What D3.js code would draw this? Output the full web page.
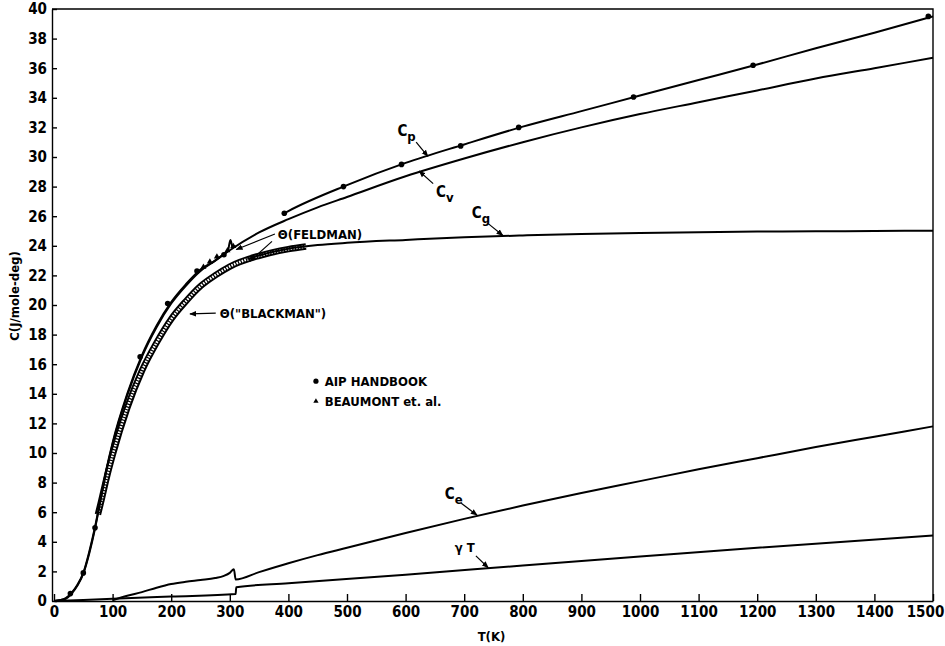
<!DOCTYPE html>
<html>
<head>
<meta charset="utf-8">
<script src="https://cdn.jsdelivr.net/npm/d3@7"></script>
<style>
    body { margin: 0; background: #fff; }
    text { font-family: "DejaVu Sans", "Liberation Sans Narrow", sans-serif; font-stretch: condensed; font-weight: bold; fill: #000; }
    .curve { fill: none; stroke: #000; stroke-width: 2; }
    .axis path, .axis line { stroke: #000; stroke-width: 1.4; }
    .axis text { font-size: 15px; }
    .note { font-size: 13px; }
</style>
</head>
<body>
<div id="chart"></div>
<script>
// tick labels
const tempTicks = d3.range(0, 1501, 100)
const heatTicks = d3.range(0, 41, 2)

// [T (K), C (J/mole-deg)]
const cpLow = [[0, 0], [20, 0.2], [30, 0.55], [40, 1.1], [50, 1.9], [60, 3.3], [70, 5.0], [80, 7.0], [90, 9.0],
    [100, 10.7], [125, 14.0], [150, 16.6], [175, 18.6], [200, 20.2], [225, 21.4], [250, 22.4], [275, 23.0],
    [290, 23.45], [297, 23.7], [301, 24.4], [305, 23.9], [310, 24.0]]
const cpHigh = [[393, 26.2], [400, 26.35], [500, 28.1], [600, 29.6], [700, 30.85], [800, 32.05], [900, 33.1],
    [1000, 34.15], [1100, 35.2], [1200, 36.25], [1300, 37.35], [1400, 38.4], [1500, 39.5]]
const cv = [[0, 0], [20, 0.15], [30, 0.5], [40, 1.05], [50, 1.85], [60, 3.2], [70, 4.9], [80, 6.9], [90, 8.9],
    [100, 10.6], [125, 13.9], [150, 16.5], [175, 18.5], [200, 20.1], [225, 21.3], [250, 22.3], [275, 23.0],
    [300, 23.7], [350, 24.9], [400, 25.8], [450, 26.6], [500, 27.3], [600, 28.7], [700, 29.9], [800, 31.0],
    [900, 32.0], [1000, 32.9], [1100, 33.7], [1200, 34.5], [1300, 35.3], [1400, 36.0], [1500, 36.7]]
const feldman = [[75, 6.0], [80, 6.8], [90, 8.5], [100, 10.0], [125, 13.2], [150, 15.7], [175, 17.6], [200, 19.2],
    [225, 20.4], [250, 21.4], [275, 22.1], [300, 22.7], [350, 23.4], [400, 23.85], [430, 24.0]]
const blackman = [[75, 5.7], [80, 6.5], [90, 8.2], [100, 9.7], [125, 12.9], [150, 15.4], [175, 17.3], [200, 18.9],
    [225, 20.1], [250, 21.15], [275, 21.9], [300, 22.5], [350, 23.25], [400, 23.7], [430, 23.9]]
const cg = [[330, 23.1], [350, 23.35], [400, 23.8], [450, 24.05], [500, 24.2], [600, 24.4], [700, 24.58], [800, 24.7],
    [900, 24.8], [1000, 24.87], [1100, 24.92], [1200, 24.96], [1300, 24.98], [1400, 25.0], [1500, 25.02]]
const ce = [[100, 0.05], [125, 0.35], [150, 0.6], [175, 0.9], [200, 1.15], [225, 1.3], [250, 1.42], [275, 1.55],
    [290, 1.7], [300, 1.9], [307, 2.15], [310, 1.45], [350, 1.95], [400, 2.55], [450, 3.1], [500, 3.6],
    [600, 4.6], [700, 5.55], [800, 6.45], [900, 7.3], [1000, 8.1], [1100, 8.9], [1200, 9.65], [1300, 10.4],
    [1400, 11.1], [1500, 11.8]]
const gammaT = [[0, 0], [100, 0.15], [200, 0.3], [310, 0.47], [311, 0.93], [400, 1.2], [600, 1.78], [800, 2.4],
    [1000, 3.0], [1200, 3.6], [1500, 4.42]]
const aipPoints = [[28, 0.5], [50, 1.9], [70, 4.95], [147, 16.5], [194, 20.1], [244, 22.3], [290, 23.4],
    [393, 26.2], [494, 28.0], [593, 29.5], [694, 30.75], [793, 32.0], [989, 34.05], [1193, 36.2], [1492, 39.5]]
const beaumontPoints = [[255, 22.5], [266, 22.85], [278, 23.2], [296, 23.62], [306, 23.9]]

const W = 945, H = 646
const margin = { left: 54, right: 12, top: 9, bottom: 45 }

const svg = d3.select('#chart').append('svg')
    .attr('width', W)
    .attr('height', H)

const x = d3.scaleLinear().domain([0, 1500]).range([margin.left, W - margin.right])
const y = d3.scaleLinear().domain([0, 40]).range([H - margin.bottom, margin.top])

svg.append('defs').append('marker')
    .attr('id', 'arrow')
    .attr('viewBox', '0 0 10 10')
    .attr('refX', 9).attr('refY', 5)
    .attr('markerWidth', 7).attr('markerHeight', 7)
    .attr('markerUnits', 'userSpaceOnUse')
    .attr('orient', 'auto')
    .append('path')
    .attr('d', 'M0,1 L10,5 L0,9 Z')
    .attr('fill', '#000')

// axes
const xAxis = svg.append('g')
    .attr('class', 'axis')
    .attr('transform', `translate(0,${y(0)})`)
    .call(d3.axisBottom(x).tickValues(tempTicks).tickFormat(d3.format('d'))
        .tickSizeInner(-7).tickSizeOuter(0).tickPadding(5))
// last label sits at the page edge, nudge it in
xAxis.selectAll('.tick text').filter(d => d === 1500).attr('dx', -8)

svg.append('g')
    .attr('class', 'axis')
    .attr('transform', `translate(${x(0) - 2},0)`)
    .call(d3.axisLeft(y).tickValues(heatTicks).tickFormat(d3.format('d'))
        .tickSizeInner(-5).tickSizeOuter(0).tickPadding(5))

// frame top + right
svg.append('path')
    .attr('d', `M${x(0) - 2},${y(40)} H${x(1500)} V${y(0)}`)
    .attr('fill', 'none')
    .attr('stroke', '#000')
    .attr('stroke-width', 1.4)

// axis titles
svg.append('text')
    .attr('x', x(750) - 2)
    .attr('y', 641)
    .attr('text-anchor', 'middle')
    .style('font-size', '13px')
    .text('T(K)')
svg.append('text')
    .attr('transform', `translate(19,${296}) rotate(-90)`)
    .attr('text-anchor', 'middle')
    .style('font-size', '13px')
    .text('C(J/mole-deg)')

const line = d3.line()
    .x(d => x(d[0]))
    .y(d => y(d[1]))
    .curve(d3.curveMonotoneX)

// Θ band (Feldman / Blackman): black rails with light rungs between
const mid = feldman.map((d, i) => [d[0], (d[1] + blackman[i][1]) / 2])
svg.append('path').attr('d', line(mid)).attr('fill', 'none').attr('stroke', '#000').attr('stroke-width', 6.5)
svg.append('path').attr('d', line(mid)).attr('fill', 'none').attr('stroke', '#fff').attr('stroke-width', 2.6)
    .attr('stroke-dasharray', '1.6,1.2')

const curves = [cpLow, cpHigh, cv, cg, ce, gammaT]
svg.selectAll('path.curve')
    .data(curves)
    .enter().append('path')
    .attr('class', 'curve')
    .attr('d', line)

// points
svg.selectAll('circle.aip')
    .data(aipPoints)
    .enter().append('circle')
    .attr('class', 'aip')
    .attr('cx', d => x(d[0]))
    .attr('cy', d => y(d[1]))
    .attr('r', 2.8)
    .attr('fill', '#000')

const tri = d3.symbol().type(d3.symbolTriangle).size(16)
svg.selectAll('path.beaumont')
    .data(beaumontPoints)
    .enter().append('path')
    .attr('class', 'beaumont')
    .attr('transform', d => `translate(${x(d[0])},${y(d[1]) - 1})`)
    .attr('d', tri)
    .attr('fill', '#000')

// curve labels: [T, C] of text, then arrow from -> to
const notes = [
    { t: 'C', sub: 'p', at: [586, 31.4], from: [618, 31.0], to: [638, 30.05] },
    { t: 'C', sub: 'v', at: [652, 27.3], from: [647, 28.2], to: [623, 29.05] },
    { t: 'C', sub: 'g', at: [713, 25.9], from: [741, 25.5], to: [766, 24.7] },
    { t: 'C', sub: 'e', at: [667, 6.9], from: [695, 6.6], to: [722, 5.8] },
    { t: '\u03b3 T', sub: '', at: [684, 3.3], from: [720, 3.05], to: [741, 2.25] },
    { t: '\u0398(FELDMAN)', sub: '', at: [382, 24.45], from: [377, 24.8], to: [311, 23.75] },
    { t: '', sub: '', at: [0, 0], from: [372, 24.3], to: [334, 22.95] },
    { t: '\u0398("BLACKMAN")', sub: '', at: [283, 19.1], from: [276, 19.45], to: [232, 19.4] }
]

notes.forEach(n => {
    if (n.t) {
        const tx = svg.append('text')
            .attr('class', 'note')
            .attr('x', x(n.at[0]))
            .attr('y', y(n.at[1]))
        tx.append('tspan').style('font-size', n.sub ? '15px' : '13px').text(n.t)
        if (n.sub) tx.append('tspan').attr('dy', 5).style('font-size', '13px').text(n.sub)
    }
    svg.append('line')
        .attr('x1', x(n.from[0])).attr('y1', y(n.from[1]))
        .attr('x2', x(n.to[0])).attr('y2', y(n.to[1]))
        .attr('stroke', '#000')
        .attr('stroke-width', 1.2)
        .attr('marker-end', 'url(#arrow)')
})

// legend
const legend = svg.append('g')
legend.append('circle')
    .attr('cx', x(447)).attr('cy', y(14.85)).attr('r', 2.6).attr('fill', '#000')
legend.append('text')
    .attr('class', 'note')
    .attr('x', x(462)).attr('y', y(14.5))
    .text('AIP HANDBOOK')
legend.append('path')
    .attr('transform', `translate(${x(447)},${y(13.5)})`)
    .attr('d', d3.symbol().type(d3.symbolTriangle).size(12))
    .attr('fill', '#000')
legend.append('text')
    .attr('class', 'note')
    .attr('x', x(462)).attr('y', y(13.15))
    .text('BEAUMONT et. al.')
</script>
</body>
</html>
